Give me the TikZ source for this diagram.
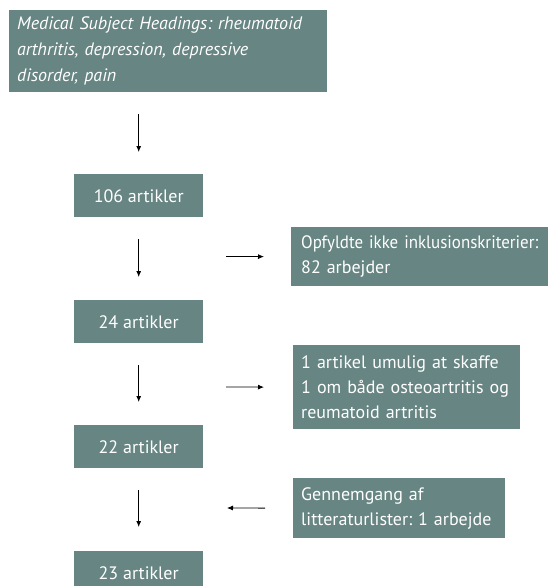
\documentclass[tikz,border=0pt]{standalone}
\usepackage{fontspec}
\setmainfont{PT Sans}
\frenchspacing
\usetikzlibrary{arrows.meta}
\definecolor{boxgreen}{RGB}{102,133,131}
\tikzset{
  box/.style={fill=boxgreen, text=white, inner sep=0pt, font=\fontsize{18}{25}\selectfont},
  sidebox/.style={box, align=left, anchor=north west},
  countbox/.style={box, anchor=north west, minimum width=129pt, minimum height=43pt},
  pil/.style={-{Latex[length=6pt,width=5pt]}, line width=0.8pt},
}
\begin{document}
\begin{tikzpicture}[x=1pt,y=1pt]
\useasboundingbox (0,0) rectangle (558,-586);
% search and article counts
\node[sidebox, minimum width=318pt, minimum height=82pt, text width=302pt,
  font=\fontsize{18}{26}\selectfont\itshape] (mesh) at (9,-10)
  {Medical Subject Headings: rheumatoid\\arthritis, depression, depressive\\disorder, pain};
\node[countbox] (n106) at (74,-174) {106 artikler};
\node[countbox] (n24) at (74,-300) {24 artikler};
\node[countbox] (n22) at (74,-425) {22 artikler};
\node[countbox] (n23) at (74,-551) {23 artikler};
% side boxes
\node[sidebox, minimum width=257pt, minimum height=59pt, text width=237pt] (opf) at (291,-227)
  {\mbox{\addfontfeature{FakeStretch=0.94}Opfyldte ikke inklusionskriterier:}\\82 arbejder};
\node[sidebox, minimum width=227pt, minimum height=84pt, text width=211pt] (skaf) at (293,-345)
  {1 artikel umulig at skaffe\\1 om både osteoartritis og\\reumatoid artritis};
\node[sidebox, minimum width=212pt, minimum height=60pt, text width=196pt] (gen) at (293,-478)
  {Gennemgang af\\litteraturlister: 1 arbejde};
\coordinate (h1) at (226,-256.5);
\coordinate (h2) at (226,-387);
\coordinate (h3) at (227,-508);
% arrows
\draw[pil, shorten <=22pt, shorten >=22pt] (n106.north |- mesh.south) -- (n106.north);
\draw[pil, shorten <=22pt, shorten >=23pt] (n106.south) -- (n24.north);
\draw[pil, shorten <=22pt, shorten >=23pt] (n24.south) -- (n22.north);
\draw[pil, shorten <=22pt, shorten >=24pt] (n22.south) -- (n23.north);
\draw[pil, shorten >=27pt] (h1) -- (opf.west);
\draw[pil, shorten >=29pt] (h2) -- (skaf.west);
\draw[pil, shorten <=28pt] (gen.west) -- (h3);
\end{tikzpicture}
\end{document}
